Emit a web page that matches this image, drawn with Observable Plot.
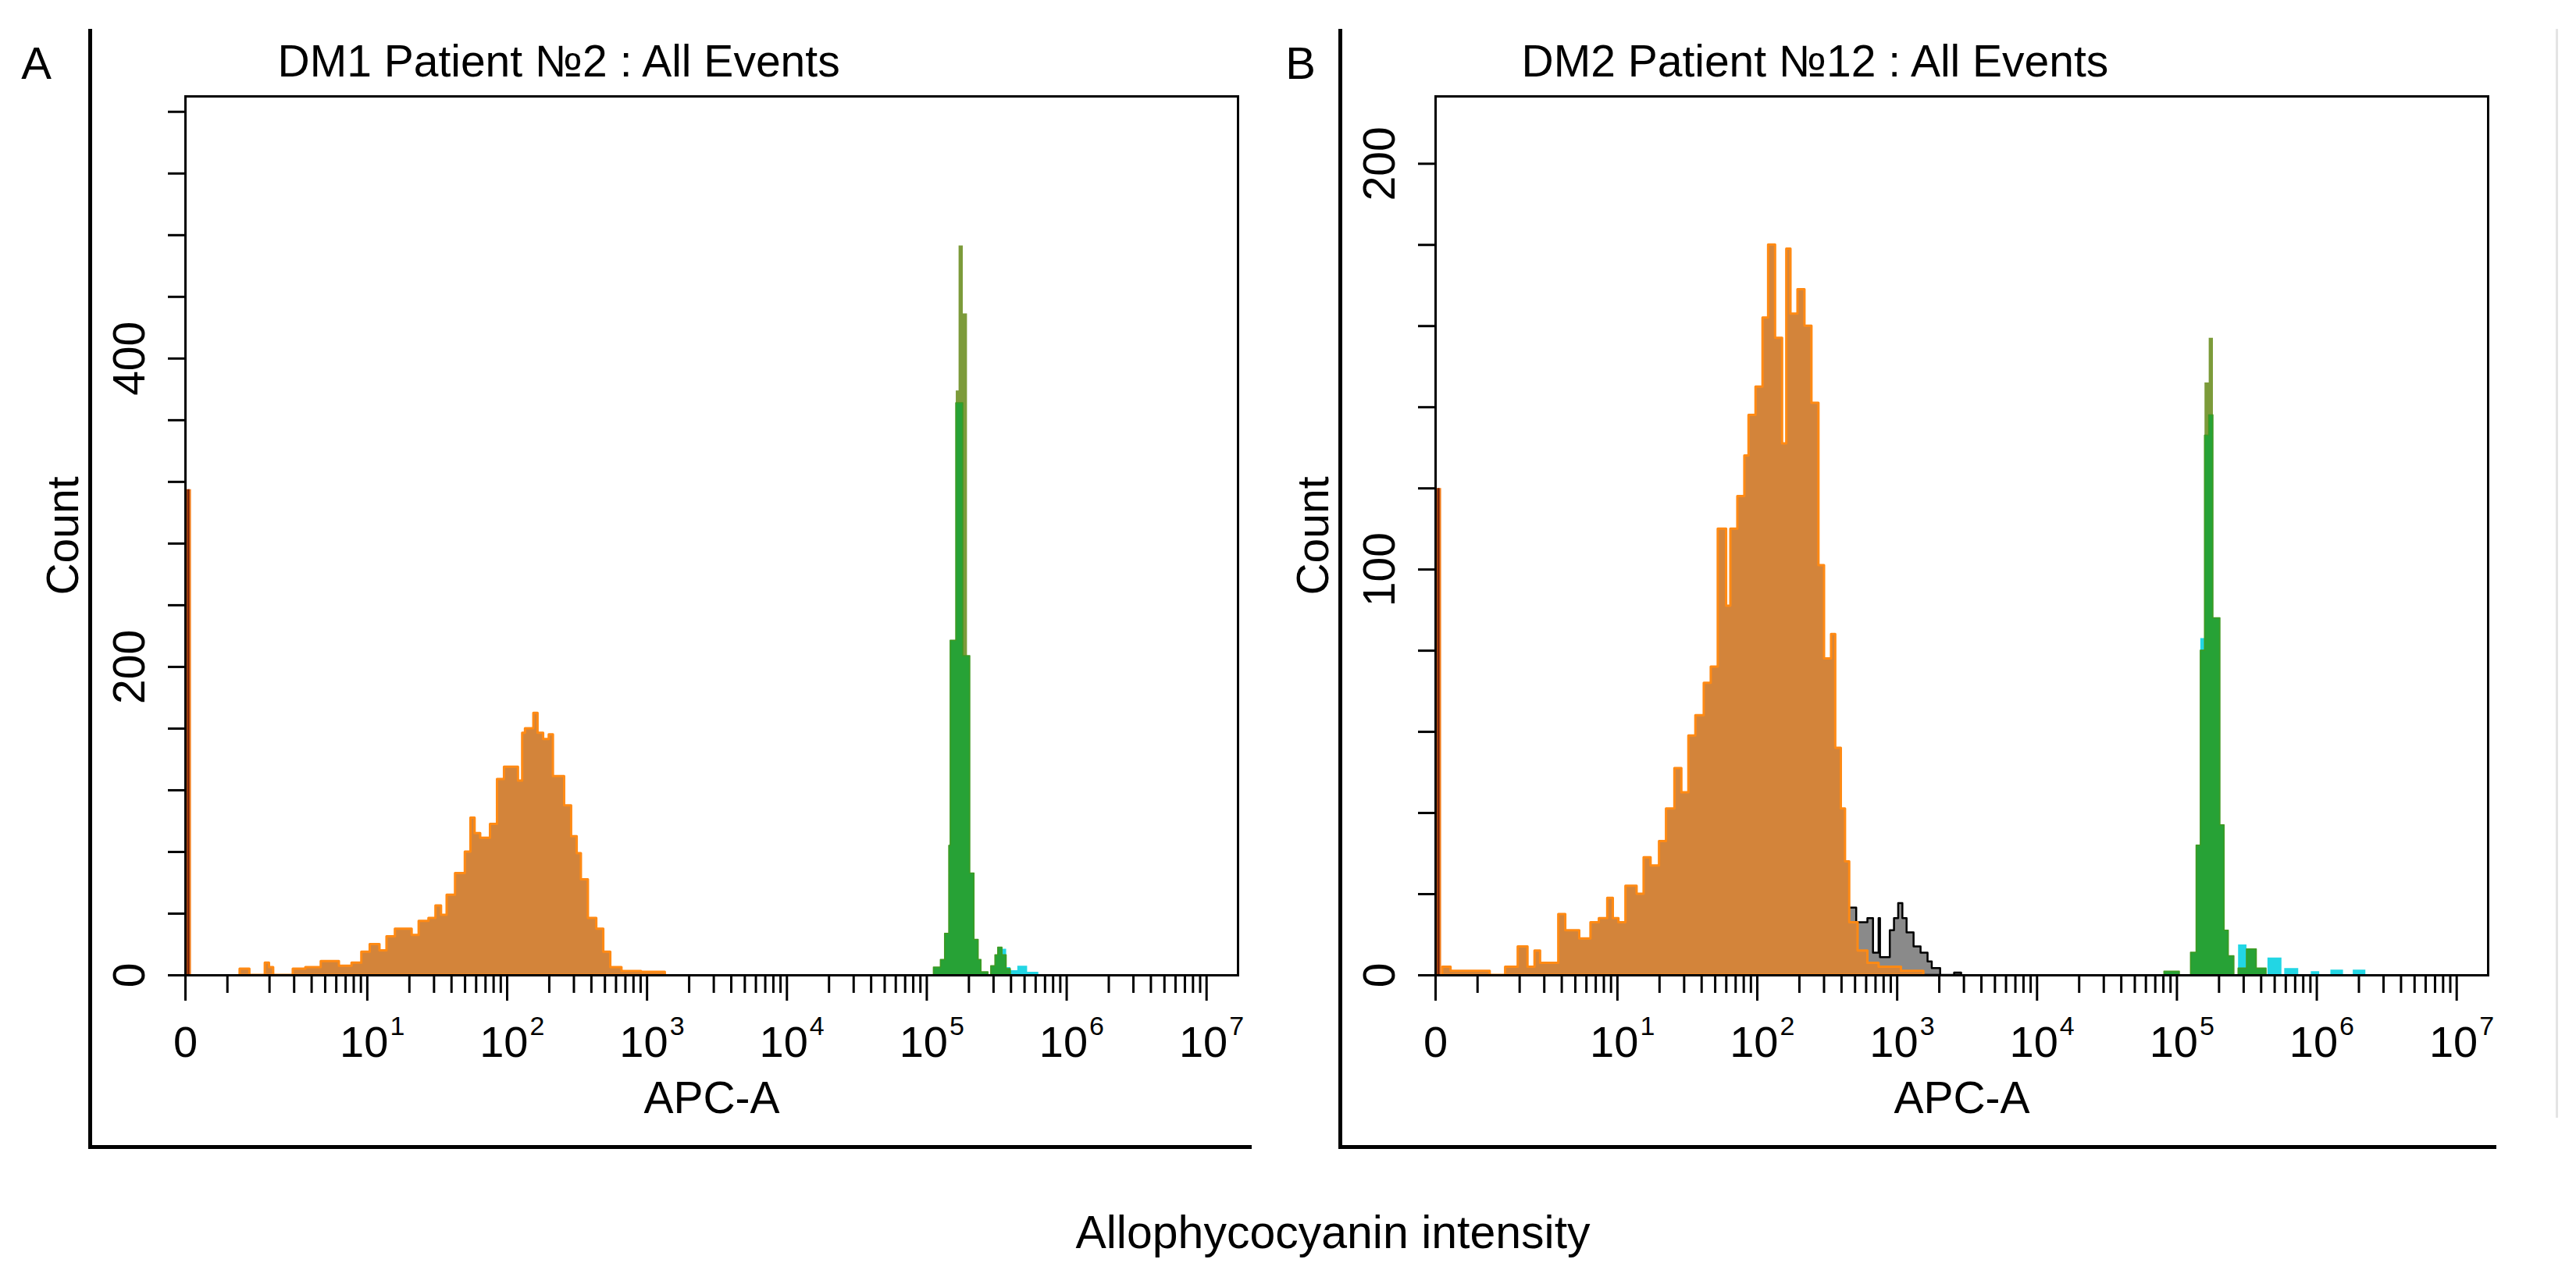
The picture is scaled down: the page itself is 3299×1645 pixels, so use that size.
<!DOCTYPE html>
<html>
<head>
<meta charset="utf-8">
<script src="https://cdn.jsdelivr.net/npm/d3@7"></script>
<script src="https://cdn.jsdelivr.net/npm/@observablehq/plot@0.6"></script>
<style>
  body { margin: 0; background: #fff; }
  #root { position: relative; width: 3299px; height: 1645px; overflow: hidden; background: #fff;
          font-family: "Liberation Sans", Arial, sans-serif; }
  .pane { position: absolute; top: 0; }
  .rule { position: absolute; background: #000; }
  #caption { position: absolute; left: 1707px; top: 1550px; transform: translateX(-50%);
             font-size: 59px; line-height: 1; white-space: nowrap; color: #000; }
</style>
</head>
<body>
<div id="root">
  <div class="pane" id="paneA" style="left:0px"></div>
  <div class="pane" id="paneB" style="left:1601px"></div>
  <div class="rule" style="left:113px;top:37px;width:5px;height:1435px"></div>
  <div class="rule" style="left:113px;top:1467px;width:1490px;height:5px"></div>
  <div class="rule" style="left:1714px;top:37px;width:5px;height:1435px"></div>
  <div class="rule" style="left:1714px;top:1467px;width:1483px;height:5px"></div>
  <div class="rule" style="left:3273px;top:37px;width:3px;height:1395px;background:#e4e4e4"></div>
  <div id="caption">Allophycocyanin intensity</div>
</div>
<script>
// ---------- shared axis data ----------
const xDomainExp = [-0.3, 7.225];          // log10 APC-A range shown ("0" sits at the left end)
const decadeLabels = [1, 2, 3, 4, 5, 6, 7];  // 10^1 ... 10^7
const minorMantissas = [1, 2, 3, 4, 5, 6, 7, 8, 9];
const minorDecades = [0, 1, 2, 3, 4, 5, 6];
const zeroLabel = "0";
const xAxisLabel = "APC-A";
const yAxisLabel = "Count";

// ---------- Panel A : DM1 Patient №2 ----------
const titleA = "DM1 Patient №2 : All Events";
const letterA = "A";
const yMaxA = 570;
const yTicksA = [0, 40, 80, 120, 160, 200, 240, 280, 320, 360, 400, 440, 480, 520, 560];
const yLabelsA = [0, 200, 400];
const zeroSpikeA = 315;
const orangeEdgesA = [0.09, 0.16, 0.27, 0.30, 0.33, 0.47, 0.56, 0.67, 0.80, 0.89, 0.96, 1.02, 1.09, 1.14, 1.20,
  1.32, 1.37, 1.44, 1.49, 1.53, 1.57, 1.63, 1.70, 1.74, 1.77, 1.81, 1.88, 1.93, 1.98, 2.08, 2.11, 2.13, 2.19,
  2.22, 2.26, 2.30, 2.33, 2.41, 2.46, 2.50, 2.53, 2.58, 2.64, 2.69, 2.74, 2.82, 2.96, 3.13];
const orangeCountsA = [4, 0, 8, 5, 0, 4, 5, 9, 6, 8, 15, 20, 16, 25, 30, 26, 35, 37, 45, 39, 52, 66, 80, 102, 92,
  89, 98, 127, 135, 126, 157, 160, 170, 157, 153, 156, 129, 110, 90, 79, 62, 37, 30, 15, 5, 2.5, 2];
const oliveEdgesA = [5.21, 5.23, 5.26, 5.29];
const oliveCountsA = [379, 473, 429];
const greenEdgesA = [5.05, 5.10, 5.13, 5.16, 5.17, 5.21, 5.23, 5.26, 5.29, 5.31, 5.34, 5.37, 5.39, 5.44,
  5.46, 5.49, 5.51, 5.54, 5.57, 5.60];
const greenCountsA = [5, 10, 27, 84, 217, 371, 371, 207, 207, 66, 23, 10, 2, 0, 6, 13, 18, 13, 4];
const cyanEdgesA = [5.54, 5.57, 5.60, 5.65, 5.72, 5.80];
const cyanCountsA = [17, 5, 3, 6, 2];

// ---------- Panel B : DM2 Patient №12 ----------
const titleB = "DM2 Patient №12 : All Events";
const letterB = "B";
const yMaxB = 216.6;
const yTicksB = [0, 20, 40, 60, 80, 100, 120, 140, 160, 180, 200];
const yLabelsB = [0, 100, 200];
const zeroSpikeB = 120;
const orangeEdgesB = [-0.25, -0.19, 0.09, 0.20, 0.29, 0.36, 0.41, 0.45, 0.58, 0.63, 0.73, 0.81, 0.87, 0.93, 0.97,
  1.01, 1.06, 1.14, 1.19, 1.24, 1.30, 1.35, 1.41, 1.46, 1.51, 1.56, 1.62, 1.67, 1.72, 1.78, 1.81, 1.86, 1.91,
  1.94, 1.99, 2.04, 2.08, 2.13, 2.18, 2.21, 2.24, 2.29, 2.34, 2.39, 2.44, 2.48, 2.53, 2.56, 2.60, 2.63, 2.66,
  2.72, 2.79, 2.87, 3.03, 3.19];
const orangeCountsB = [2, 1, 0, 2, 7, 2, 6, 3, 15, 11, 9, 13, 14, 19, 14, 13, 22, 20, 29, 27, 33, 41, 51, 45, 59,
  64, 72, 76, 110, 91, 110, 118, 128, 138, 145, 162, 180, 157, 131, 179, 163, 169, 160, 141, 101, 78, 84, 56,
  41, 28, 13, 6, 3, 2, 1];
const grayEdgesB = [2.63, 2.71, 2.79, 2.83, 2.87, 2.88, 2.95, 2.98, 3.01, 3.04, 3.07, 3.12, 3.17, 3.22, 3.25,
  3.31, 3.41, 3.46];
const grayCountsB = [16.6, 13, 14, 5.5, 14, 4.4, 11, 14, 17.7, 14, 10.5, 7, 5.5, 3.3, 1.7, 0, 0.6];
const oliveEdgesB = [5.20, 5.23, 5.26];
const oliveCountsB = [146, 157];
const greenEdgesB = [4.91, 5.02, 5.10, 5.14, 5.17, 5.20, 5.23, 5.26, 5.31, 5.34, 5.37, 5.41, 5.44, 5.50, 5.57, 5.64];
const greenCountsB = [0.9, 0, 5.6, 32, 80, 133, 138, 88, 37, 11, 4.7, 0, 1.7, 6.4, 1.7];
const cyanEdgesB = [5.17, 5.20, 5.44, 5.50, 5.65, 5.75, 5.77, 5.87, 5.96, 6.02, 6.10, 6.19, 6.26, 6.35];
const cyanCountsB = [83, 0, 7.5, 0, 4.3, 0, 1.7, 0, 0.9, 0, 1.3, 0, 1.3];

// ---------- helpers ----------
function steps(edges, counts) {
  return edges.map((e, i) => ({x: 10 ** e, y: i < counts.length ? counts[i] : 0}));
}
const majorX = [10 ** xDomainExp[0], ...decadeLabels.map(d => 10 ** d)];
const minorX = minorDecades.flatMap(d => minorMantissas.map(m => m * 10 ** d)).filter(v => !majorX.includes(v));

function hist(edges, counts, opts) {
  return Plot.areaY(steps(edges, counts), {x: "x", y: "y", curve: "step-after", ...opts});
}

function panel(cfg) {
  const marks = [];
  if (cfg.gray) marks.push(hist(cfg.gray[0], cfg.gray[1], {fill: "#8a8a8a", stroke: "#000", strokeWidth: 2.5}));
  marks.push(
    hist(cfg.orange[0], cfg.orange[1], {fill: "#D3843A", stroke: "#FF8A14", strokeWidth: 3}),
    Plot.ruleX([cfg.zero], {x: () => 10 ** -0.28, y1: 0, y2: d => d, stroke: "#F07C1C", strokeWidth: 7}),
    Plot.ruleX([cfg.zero], {x: () => 10 ** -0.28, y1: 0, y2: d => d, stroke: "#7A240C", strokeWidth: 3}),
    hist(cfg.cyan[0], cfg.cyan[1], {fill: "#22D6E4"}),
    hist(cfg.olive[0], cfg.olive[1], {fill: "#7C9B3A"}),
    hist(cfg.green[0], cfg.green[1], {fill: "#27A236", stroke: "#3E9A22", strokeWidth: 1.5}),
    Plot.frame({stroke: "#000", strokeWidth: 3}),
    Plot.axisY(cfg.yTicks, {anchor: "left", tickSize: 22, strokeWidth: 3, tickFormat: () => "", label: null}),
    Plot.axisX(majorX, {anchor: "bottom", tickSize: 33, strokeWidth: 3, tickFormat: () => "", label: null}),
    Plot.axisX(minorX, {anchor: "bottom", tickSize: 23, strokeWidth: 3, tickFormat: () => "", label: null}),
    // y tick labels (rotated)
    Plot.text(cfg.yLabels, {y: d => d, text: d => String(d), frameAnchor: "left", dx: -53, rotate: -90,
      textAnchor: "middle", lineAnchor: "bottom", fontSize: 57}),
    Plot.text([yAxisLabel], {text: d => d, frameAnchor: "left", dx: -138, rotate: -90,
      textAnchor: "middle", lineAnchor: "bottom", fontSize: 57}),
    // x tick labels
    Plot.text([zeroLabel], {x: () => 10 ** xDomainExp[0], text: d => d, frameAnchor: "bottom", dy: 104,
      textAnchor: "middle", lineAnchor: "bottom", fontSize: 56}),
    Plot.text(decadeLabels, {x: d => 10 ** d, text: () => "10", frameAnchor: "bottom", dx: 27, dy: 104,
      textAnchor: "end", lineAnchor: "bottom", fontSize: 56}),
    Plot.text(decadeLabels, {x: d => 10 ** d, text: d => String(d), frameAnchor: "bottom", dx: 29, dy: 76,
      textAnchor: "start", lineAnchor: "bottom", fontSize: 34}),
    Plot.text([xAxisLabel], {text: d => d, frameAnchor: "bottom", dy: 176, textAnchor: "middle",
      lineAnchor: "bottom", fontSize: 57}),
    // panel letter and title
    Plot.text([cfg.letter], {text: d => d, frameAnchor: "top-left", dx: cfg.letterDx, dy: -23,
      textAnchor: "middle", lineAnchor: "bottom", fontSize: 58}),
    Plot.text([cfg.title], {text: d => d, frameAnchor: "top-left", dx: cfg.titleDx, dy: -26,
      textAnchor: "start", lineAnchor: "bottom", fontSize: 57})
  );
  return Plot.plot({
    width: 1601, height: 1480,
    marginLeft: 237, marginRight: 16, marginTop: 123, marginBottom: 231,
    x: {type: "log", domain: [10 ** xDomainExp[0], 10 ** xDomainExp[1]], label: null},
    y: {domain: [0, cfg.yMax], label: null},
    style: {fontFamily: '"Liberation Sans", Arial, sans-serif', background: "transparent", overflow: "visible", color: "#000"},
    marks
  });
}

document.getElementById("paneA").append(panel({
  letter: letterA, title: titleA, letterDx: -191, titleDx: 118, yMax: yMaxA, yTicks: yTicksA, yLabels: yLabelsA,
  zero: zeroSpikeA, orange: [orangeEdgesA, orangeCountsA], olive: [oliveEdgesA, oliveCountsA],
  green: [greenEdgesA, greenCountsA], cyan: [cyanEdgesA, cyanCountsA]
}));
document.getElementById("paneB").append(panel({
  letter: letterB, title: titleB, letterDx: -173, titleDx: 110, yMax: yMaxB, yTicks: yTicksB, yLabels: yLabelsB,
  zero: zeroSpikeB, orange: [orangeEdgesB, orangeCountsB], gray: [grayEdgesB, grayCountsB],
  olive: [oliveEdgesB, oliveCountsB], green: [greenEdgesB, greenCountsB], cyan: [cyanEdgesB, cyanCountsB]
}));
</script>
</body>
</html>
